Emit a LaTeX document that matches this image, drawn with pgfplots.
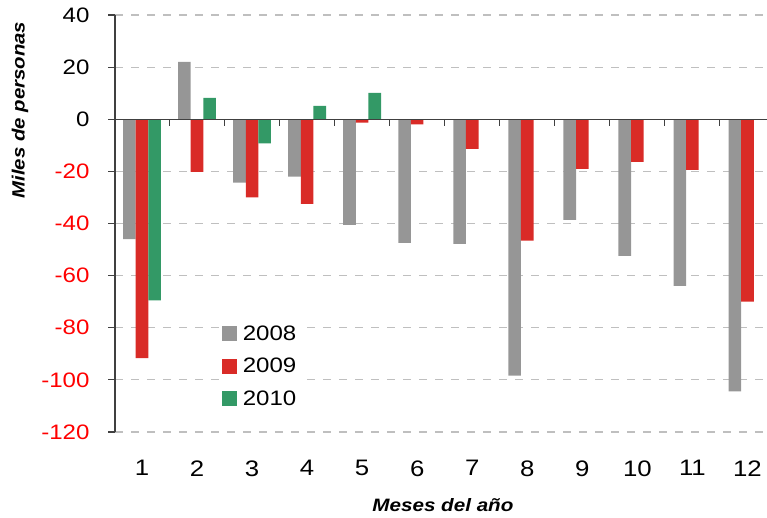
\documentclass[border=0pt]{standalone}
\usepackage{fontspec}
\setmainfont[FakeStretch=1.15]{Liberation Sans}
\usepackage{pgfplots}
\pgfplotsset{compat=1.18}
\definecolor{cgray}{HTML}{969696}
\definecolor{cred}{HTML}{D92B27}
\definecolor{cgreen}{HTML}{339966}
\definecolor{grid}{HTML}{C8C8C8}
\definecolor{axline}{HTML}{404040}
\begin{document}
\begin{tikzpicture}
\begin{axis}[
  at={(115bp,86bp)}, anchor=south west,
  scale only axis, width=652bp, height=417bp,
  xmin=0.51, xmax=12.355, ymin=-120, ymax=40,
  ybar=0pt, bar width=0.229,
  /pgf/number format/assume math mode=true,
  axis x line*=bottom, axis y line*=left,
  x axis line style={draw=none},
  y axis line style={axline, line width=1.1bp},
  xtick={1,...,12},
  xtick style={draw=none},
  xticklabel style={font=\fontsize{22.5}{27}\selectfont, yshift=-18bp},
  ytick={-120,-100,...,40},
  yticklabels={{\color{red}-120},{\color{red}-100},{\color{red}-80},{\color{red}-60},{\color{red}-40},{\color{red}-20},0,20,40},
  yticklabel style={font=\fontsize{21}{25}\selectfont, anchor=east, xshift=-15bp},
  ytick style={axline, line width=1.1bp},
  tick align=outside, major tick length=7bp,
  xmajorgrids=false, ymajorgrids=true,
  grid style={grid, line width=1.1bp, dash pattern=on 8bp off 8bp},
  clip=false,
  ylabel={Miles de personas},
  ylabel style={at={(rel axis cs:-0.1457,0.772)}, anchor=center, font=\fontsize{17.8}{21}\selectfont\bfseries\itshape},
  xlabel={Meses del año},
  xlabel style={at={(rel axis cs:0.503,-0.175)}, anchor=center, font=\fontsize{18}{22}\selectfont\bfseries\itshape},
  legend style={at={(rel axis cs:0.159,0.268)}, anchor=north west, draw=none, fill=white,
    font=\fontsize{21}{25}\selectfont, row sep=12.5bp, inner sep=3bp,
    /tikz/every odd column/.append style={column sep=4bp}},
  legend cell align=left,
  legend image code/.code={\fill[#1] (0bp,-7.5bp) rectangle (15bp,7.5bp);},
]
\addplot[fill=cgray, draw=none] coordinates {(1,-46) (2,22) (3,-24.3) (4,-22) (5,-40.5) (6,-47.4) (7,-47.8) (8,-98.4) (9,-38.6) (10,-52.4) (11,-63.9) (12,-104.4)};
\addplot[fill=cred, draw=none] coordinates {(1,-91.7) (2,-20.2) (3,-30) (4,-32.5) (5,-1.3) (6,-2) (7,-11.4) (8,-46.6) (9,-19) (10,-16.4) (11,-19.4) (12,-70)};
\addplot[fill=cgreen, draw=none] coordinates {(1,-69.5) (2,8.2) (3,-9.3) (4,5.1) (5,10.1)};
\legend{2008,2009,2010}
\draw[axline, line width=1.3bp] (axis cs:0.51,0) -- (axis cs:12.355,0);
\pgfplotsinvokeforeach{1.5,2.5,3.5,4.5,5.5,6.5,7.5,8.5,9.5,10.5,11.5}{
  \draw[axline, line width=1.1bp] (axis cs:#1,0) -- ([yshift=-7bp]axis cs:#1,0);
}
\end{axis}
\pgfresetboundingbox
\path[use as bounding box] (0,0) rectangle (767bp,518bp);
\end{tikzpicture}
\end{document}
